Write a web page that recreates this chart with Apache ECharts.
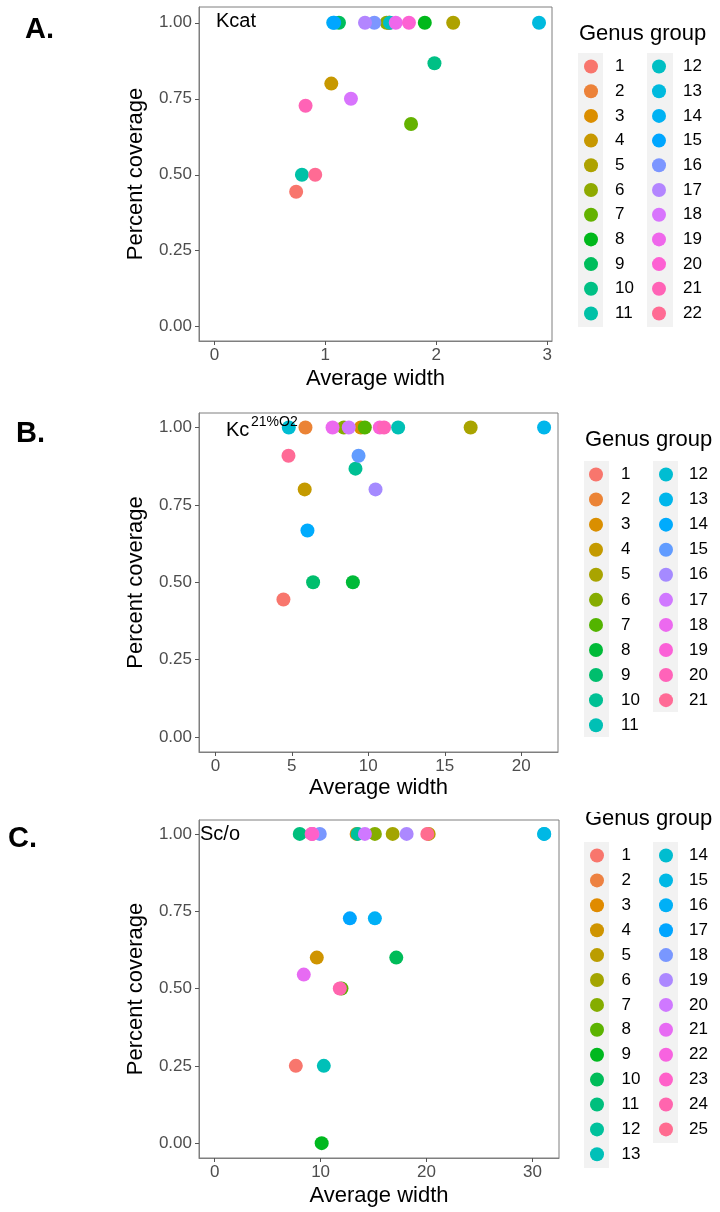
<!DOCTYPE html>
<html><head><meta charset="utf-8">
<script src="https://cdn.jsdelivr.net/npm/echarts@6/dist/echarts.min.js"></script>
<style>html,body{margin:0;padding:0;background:#fff}#c{width:720px;height:1212px}</style>
</head><body><div id="c"></div>
<script>
const FONT = '"Liberation Sans", Arial, sans-serif';

// ---------- Panel A : Kcat (22 genus groups) ----------
const groupsA = [14, 15, 9, 17, 16, 6, 2, 3, 12, 19, 20, 8, 5, 13, 1, 4, 7, 10, 11, 18, 21, 22];
const widthA  = [1.071, 1.08, 1.123, 1.358, 1.442, 1.553, 1.575, 1.575, 1.583, 1.635, 1.754, 1.897, 2.153, 2.927, 0.737, 1.054, 1.773, 1.984, 0.789, 1.231, 0.822, 0.909];
const coverA  = [1, 1, 1, 1, 1, 1, 1, 1, 1, 1, 1, 1, 1, 1, 0.444, 0.8, 0.667, 0.867, 0.5, 0.75, 0.727, 0.5];
const nGroupsA = 22;
const xTicksA = [0, 1, 2, 3];

// ---------- Panel B : Kc 21%O2 (21 genus groups) ----------
const groupsB = [12, 2, 18, 6, 17, 3, 7, 19, 20, 11, 5, 13, 21, 15, 10, 4, 16, 14, 9, 8, 1];
const widthB  = [4.80, 5.89, 7.66, 8.40, 8.72, 9.51, 9.77, 10.75, 11.03, 11.95, 16.69, 21.49, 4.78, 9.36, 9.16, 5.84, 10.47, 6.02, 6.39, 8.99, 4.45];
const coverB  = [1, 1, 1, 1, 1, 1, 1, 1, 1, 1, 1, 1, 0.909, 0.909, 0.867, 0.8, 0.8, 0.667, 0.5, 0.5, 0.444];
const nGroupsB = 21;
const xTicksB = [0, 5, 10, 15, 20];

// ---------- Panel C : Sc/o (25 genus groups) ----------
const groupsC = [11, 2, 22, 23, 18, 3, 12, 20, 7, 6, 19, 5, 25, 14, 15, 1, 13, 17, 16, 4, 10, 21, 8, 24, 9];
const widthC  = [8.03, 9.2, 9.23, 9.15, 9.92, 13.4, 13.49, 14.18, 15.12, 16.80, 18.12, 20.2, 20.07, 31.1, 31.1, 7.66, 10.3, 12.76, 15.12, 9.64, 17.14, 8.41, 11.97, 11.81, 10.1];
const coverC  = [1, 1, 1, 1, 1, 1, 1, 1, 1, 1, 1, 1, 1, 1, 1, 0.25, 0.25, 0.727, 0.727, 0.6, 0.6, 0.545, 0.5, 0.5, 0];
const nGroupsC = 25;
const xTicksC = [0, 10, 20, 30];

const yTicks = [0, 0.25, 0.5, 0.75, 1];

// ggplot2 default hue palette (hcl, c=100, l=65)
function hcl(h, c, l) {
  const hr = h * Math.PI / 180;
  const U = c * Math.cos(hr), V = c * Math.sin(hr);
  const un = 0.1978398, vn = 0.4683363;
  const Y = l > 7.999592 ? Math.pow((l + 16) / 116, 3) : l / 903.3;
  const u = U / (13 * l) + un, v = V / (13 * l) + vn;
  const X = 9.0 * Y * u / (4 * v);
  const Z = -X / 3 - 5 * Y + 3 * Y / v;
  const lin = [
    3.240479 * X - 1.537150 * Y - 0.498535 * Z,
    -0.969256 * X + 1.875992 * Y + 0.041556 * Z,
    0.055648 * X - 0.204043 * Y + 1.057311 * Z
  ];
  const g = t => { t = t <= 0.0031308 ? 12.92 * t : 1.055 * Math.pow(t, 1 / 2.4) - 0.055; return Math.round(Math.max(0, Math.min(1, t)) * 255); };
  return 'rgb(' + lin.map(g).join(',') + ')';
}
function huePal(n) { const out = []; for (let i = 0; i < n; i++) out.push(hcl(15 + 360 * i / n, 100, 65)); return out; }

function buildSeries(key, n, groups, widths, covers, gi) {
  const pal = huePal(n);
  const s = [];
  for (let g = 1; g <= n; g++) {
    const data = [];
    groups.forEach((gg, i) => { if (gg === g) data.push([widths[i], covers[i]]); });
    s.push({
      type: 'scatter', name: key + '|' + g, xAxisIndex: gi, yAxisIndex: gi,
      data, symbolSize: 14, itemStyle: { color: pal[g - 1], opacity: 1 },
      emphasis: { disabled: true }, silent: true
    });
  }
  return s;
}

function xAxisCfg(gi, min, max, ticks, gap) {
  return {
    type: 'value', gridIndex: gi, min, max,
    name: 'Average width', nameLocation: 'middle', nameGap: gap,
    nameTextStyle: { fontSize: 22, color: '#000', fontFamily: FONT },
    axisLine: { show: true, onZero: false, lineStyle: { color: '#7f7f7f', width: 1 } },
    axisTick: { show: true, length: 4, customValues: ticks, lineStyle: { color: '#555' } },
    axisLabel: { customValues: ticks, fontSize: 17, color: '#4d4d4d', margin: 6, fontFamily: FONT },
    splitLine: { show: false }
  };
}
function yAxisCfg(gi, min, max) {
  return {
    type: 'value', gridIndex: gi, min, max,
    name: 'Percent coverage', nameLocation: 'middle', nameGap: 52,
    nameTextStyle: { fontSize: 22, color: '#000', fontFamily: FONT },
    axisLine: { show: true, onZero: false, lineStyle: { color: '#7f7f7f', width: 1 } },
    axisTick: { show: true, length: 4, customValues: yTicks, lineStyle: { color: '#555' } },
    axisLabel: { customValues: yTicks, fontSize: 17, color: '#4d4d4d', margin: 7, fontFamily: FONT, formatter: v => v.toFixed(2) },
    splitLine: { show: false }
  };
}
function legendCfg(key, from, to, left, top, gap, pad) {
  const data = [];
  for (let g = from; g <= to; g++) data.push(key + '|' + g);
  return {
    data, orient: 'vertical', left, top, padding: 0, itemWidth: 14, itemHeight: 14, itemGap: gap,
    icon: 'circle', selectedMode: false,
    formatter: n => n.split('|')[1],
    textStyle: { fontSize: 17, color: '#000', fontFamily: FONT, padding: [0, 0, 0, pad] }
  };
}

const gridBase = { show: true, borderColor: '#7f7f7f', borderWidth: 1, backgroundColor: '#fff', containLabel: false };

const option = {
  animation: false,
  grid: [
    Object.assign({ left: 199, top: 7, width: 353, height: 334 }, gridBase),
    Object.assign({ left: 199, top: 413, width: 359, height: 339 }, gridBase),
    Object.assign({ left: 199, top: 820, width: 360, height: 338 }, gridBase)
  ],
  xAxis: [
    xAxisCfg(0, -0.139, 3.044, xTicksA, 27),
    xAxisCfg(1, -1.07, 22.4, xTicksB, 25),
    xAxisCfg(2, -1.48, 32.5, xTicksC, 27)
  ],
  yAxis: [
    yAxisCfg(0, -0.047, 1.052),
    yAxisCfg(1, -0.049, 1.047),
    yAxisCfg(2, -0.048, 1.045)
  ],
  legend: [
    legendCfg('A', 1, 11, 584, 58, 7.7, 12),
    legendCfg('A', 12, 22, 652, 58, 7.7, 12),
    legendCfg('B', 1, 11, 589, 466, 8.07, 13),
    legendCfg('B', 12, 21, 659, 466, 8.07, 11),
    legendCfg('C', 1, 13, 590, 847, 7.9, 12.5),
    legendCfg('C', 14, 25, 659, 847, 7.9, 11)
  ],
  series: [].concat(
    buildSeries('A', nGroupsA, groupsA, widthA, coverA, 0),
    buildSeries('B', nGroupsB, groupsB, widthB, coverB, 1),
    buildSeries('C', nGroupsC, groupsC, widthC, coverC, 2)
  ),
  graphic: [
    // legend key background bands
    { type: 'rect', z: 1, shape: { x: 578, y: 53, width: 25, height: 274 }, style: { fill: '#f2f2f2' } },
    { type: 'rect', z: 1, shape: { x: 647, y: 53, width: 26, height: 274 }, style: { fill: '#f2f2f2' } },
    { type: 'rect', z: 1, shape: { x: 584, y: 461, width: 25, height: 276 }, style: { fill: '#f2f2f2' } },
    { type: 'rect', z: 1, shape: { x: 653, y: 461, width: 25, height: 251 }, style: { fill: '#f2f2f2' } },
    { type: 'rect', z: 1, shape: { x: 584, y: 842, width: 25, height: 326 }, style: { fill: '#f2f2f2' } },
    { type: 'rect', z: 1, shape: { x: 653, y: 842, width: 25, height: 301 }, style: { fill: '#f2f2f2' } },
    // legend titles
    { type: 'text', z: 10, left: 579, top: 23, style: { text: 'Genus group', font: '22px ' + FONT, fill: '#000' } },
    { type: 'text', z: 10, left: 585, top: 429, style: { text: 'Genus group', font: '22px ' + FONT, fill: '#000' } },
    { type: 'text', z: 10, left: 585, top: 808, style: { text: 'Genus group', font: '22px ' + FONT, fill: '#000' } },
    { type: 'rect', z: 11, shape: { x: 575, y: 790, width: 145, height: 22 }, style: { fill: '#fff' } },
    // panel letters
    { type: 'text', z: 10, left: 25, top: 15, style: { text: 'A.', font: 'bold 29px ' + FONT, fill: '#000' } },
    { type: 'text', z: 10, left: 16, top: 419, style: { text: 'B.', font: 'bold 29px ' + FONT, fill: '#000' } },
    { type: 'text', z: 10, left: 8, top: 824, style: { text: 'C.', font: 'bold 29px ' + FONT, fill: '#000' } },
    // in-panel labels
    { type: 'text', z: 100, left: 216, top: 11, style: { text: 'Kcat', font: '20px ' + FONT, fill: '#000' } },
    { type: 'text', z: 100, left: 226, top: 420, style: { text: 'Kc', font: '20px ' + FONT, fill: '#000' } },
    { type: 'text', z: 100, left: 251, top: 415, style: { text: '21%O2', font: '14px ' + FONT, fill: '#000' } },
    { type: 'text', z: 100, left: 200, top: 824, style: { text: 'Sc/o', font: '20px ' + FONT, fill: '#000' } }
  ]
};

const chart = echarts.init(document.getElementById('c'), null, { renderer: 'canvas' });
chart.setOption(option);
</script>
</body></html>
